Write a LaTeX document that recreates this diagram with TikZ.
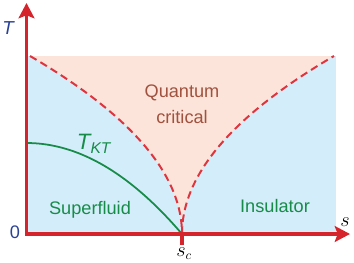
\documentclass[tikz,border=0pt]{standalone}
\usepackage{amsmath}
\usepackage{fontspec}
\setsansfont{Liberation Sans}
\usepackage{tikz}
\usetikzlibrary{arrows.meta,positioning}

\definecolor{axisred}{RGB}{214,36,44}
\definecolor{dashred}{RGB}{222,52,62}
\definecolor{qcpink}{RGB}{253,228,218}
\definecolor{phaseblue}{RGB}{212,237,250}
\definecolor{ktgreen}{RGB}{22,140,72}
\definecolor{qcbrown}{RGB}{160,82,62}
\definecolor{labelblue}{RGB}{42,66,150}

\tikzset{
  axisline/.style={line width=3pt, axisred, line cap=rect, -{Stealth[length=13pt,width=13.5pt,inset=2.5pt]}},
  crossover/.style={line width=1.7pt, dashred, dash pattern=on 6.5pt off 3.8pt},
  ktline/.style={line width=1.5pt, ktgreen},
  phasetext/.style={font=\sffamily\fontsize{15.5}{18}\selectfont, inner sep=0pt},
}

\begin{document}
\begin{tikzpicture}[x=0.3cm, y=0.3cm]
\useasboundingbox (-2.65,-2.8) rectangle (32.75,23.4);

% Regions
\fill[phaseblue] (0,0) rectangle (30.95,17.8);
\fill[qcpink] plot[smooth, domain=17.8:0] ({15.55-15.2*(\x/17.8)^2}, \x)
  -- plot[smooth, domain=0:17.8] ({15.55+15.2*(\x/17.8)^2}, \x) -- cycle;

% Crossover lines
\draw[crossover] plot[smooth, samples=40, domain=17.8:0] ({15.55-15.2*(\x/17.8)^2}, \x);
\draw[crossover] plot[smooth, samples=40, domain=0:17.8] ({15.55+15.2*(\x/17.8)^2}, \x);

% KT line
\draw[ktline] plot[smooth, samples=40, domain=0:15.55] (\x, {9.1*(1-(\x/15.55)^2)});

% Axes
\coordinate (O) at (0,0);
\coordinate (Ttop) at (0,23.1);
\coordinate (send) at (32.35,0);
\coordinate (sc) at (15.55,0);
\coordinate (scbot) at (15.55,-1.1);
\draw[axisline] (O) -- (Ttop);
\draw[axisline] (O) -- (send);
\draw[line width=3pt, axisred] (sc) -- (scbot);

% Labels
\node[phasetext, labelblue, font=\sffamily\itshape\fontsize{16}{18}\selectfont] (tlabel) at (-1.85,20.6) {T};
\node[phasetext, labelblue] (zero) at (-1.15,0.15) {0};
\node[inner sep=0pt, font=\fontsize{16}{18}\selectfont] (slabel) at (31.85,1.15) {$s$};
\node[inner sep=0pt, font=\fontsize{16}{18}\selectfont] (sclabel) at (15.75,-1.95) {$s_c$};

\node[phasetext, qcbrown] (quantum) at (15.55,14.1) {Quantum};
\node[phasetext, qcbrown] (critical) at (15.55,11.7) {critical};
\node[phasetext, ktgreen] (superfluid) at (6.35,2.4) {Superfluid};
\node[phasetext, ktgreen] (insulator) at (24.85,2.8) {Insulator};
\node[phasetext, ktgreen, font=\sffamily\itshape\fontsize{19}{22}\selectfont] (tkt) at (6.75,9.0) {T$_{\textit{KT}}$};
\end{tikzpicture}
\end{document}
